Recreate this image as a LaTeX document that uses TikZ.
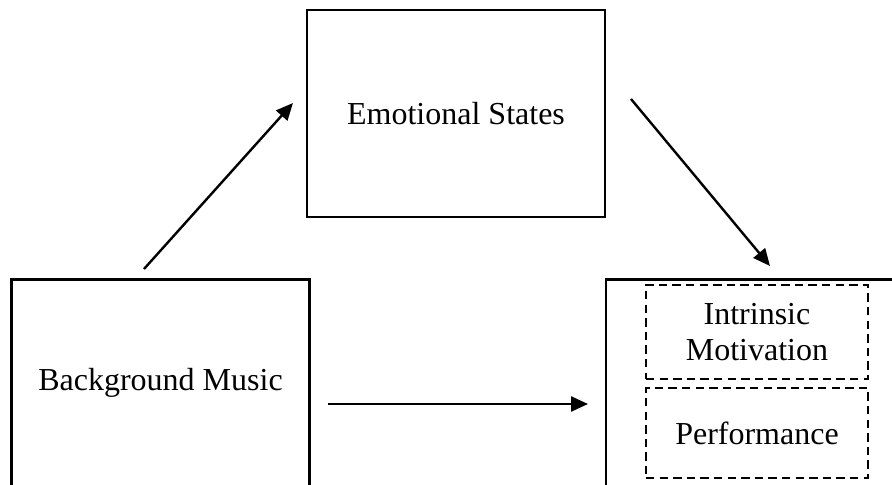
\documentclass[tikz,border=0pt]{standalone}
\usepackage{fontspec}
\setmainfont{Liberation Serif}
\usetikzlibrary{arrows.meta}

\tikzset{
  box/.style={draw=black, line width=1.3pt, inner sep=0pt, outer sep=0pt,
    minimum width=149pt, minimum height=103.5pt, align=center,
    font=\fontsize{16}{18}\selectfont},
  subbox/.style={box, dashed, dash pattern=on 4.2pt off 2.6pt,
    minimum width=111pt},
  arr/.style={line width=1.2pt, -{Triangle[length=8.5pt,width=7.5pt]}}
}

\begin{document}
\begin{tikzpicture}[x=0.5pt, y=-0.5pt]
    \useasboundingbox (0,0) rectangle (892,485);
    \clip (0,0) rectangle (892,485);

    \node[box] (emotion) at (456, 113.5) {Emotional States};
    \node[box] (music) at (160.5, 383) {Background Music};
    \node[box, minimum width=150pt] (outcome) at (756, 383) {};

    \node[subbox, minimum height=47pt] (intrinsic) at (757, 332) {Intrinsic\\Motivation};
    \node[subbox, minimum height=45pt] (perform) at (757, 433) {Performance};

    \coordinate (m1) at (144, 269);
    \coordinate (e1) at (293, 103);
    \coordinate (e2) at (631, 99);
    \coordinate (o1) at (770, 266);
    \coordinate (m2) at (328, 404);
    \coordinate (o2) at (588, 404);

    \draw[arr] (m1) -- (e1);
    \draw[arr] (e2) -- (o1);
    \draw[arr] (m2) -- (o2);

\end{tikzpicture}
\end{document}
